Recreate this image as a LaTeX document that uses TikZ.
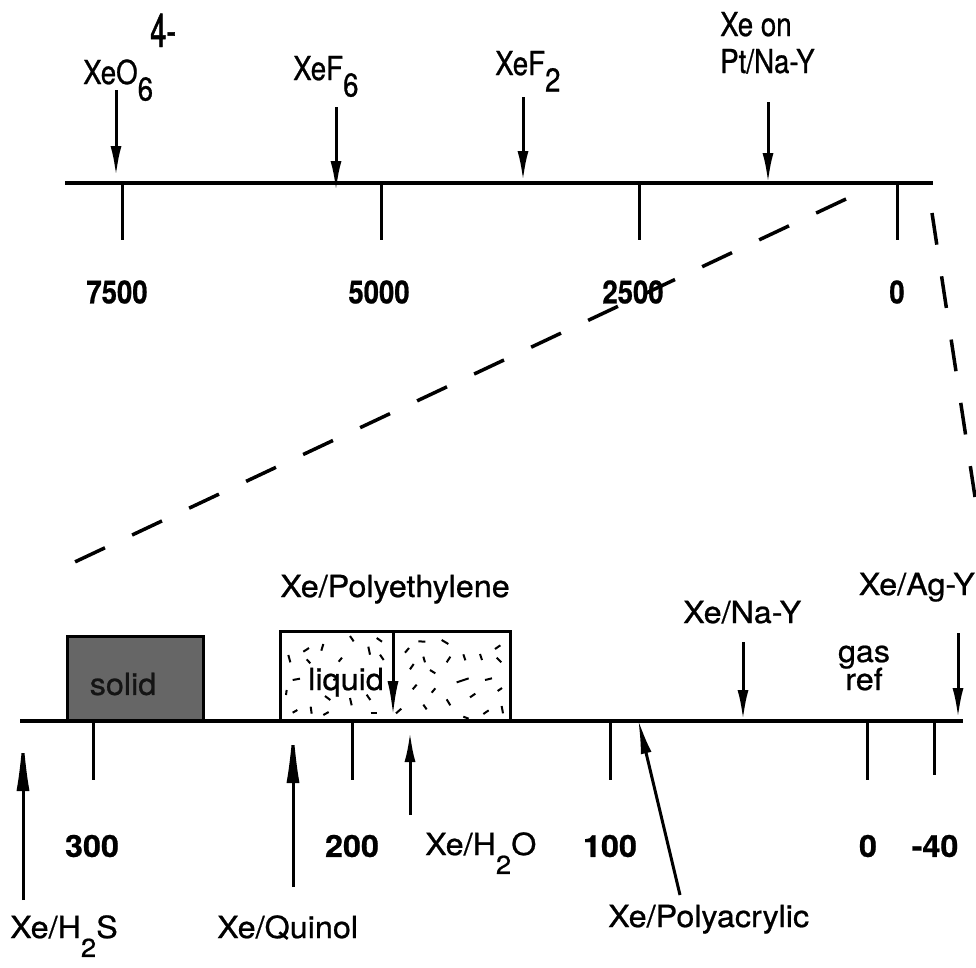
\documentclass[tikz,border=0pt]{standalone}
\usepackage{fontspec}
\usetikzlibrary{arrows.meta}
\newfontfamily\topf[FakeStretch=0.84,FakeBold=0.7]{TeX Gyre Heros}
\newfontfamily\botf[FakeStretch=1.06,FakeBold=0.7]{TeX Gyre Heros}
\newfontfamily\topnumf[FakeStretch=0.86,FakeBold=0.6]{TeX Gyre Heros Bold}
\newfontfamily\botnumf[FakeStretch=1.06,FakeBold=0.6]{TeX Gyre Heros Bold}
\newfontfamily\fourf[FakeStretch=0.62,FakeBold=1.0]{TeX Gyre Heros}
\newcommand\subtop[1]{\raisebox{-0.5em}{#1}}
\newcommand\subbot[1]{\raisebox{-0.62em}{\scalebox{0.85}{#1}}}
\tikzset{
  axisline/.style={line width=4pt},
  tickline/.style={line width=3pt},
  arr/.style={line width=3pt,-{Latex[length=30pt,width=11pt]}},
  longarr/.style={line width=3pt,-{Latex[length=58pt,width=13pt]}},
  dashln/.style={line width=3.5pt,dash pattern=on 33pt off 30pt},
  toplab/.style={font=\topf\fontsize{33}{36}\selectfont,inner sep=0pt},
  botlab/.style={font=\botf\fontsize{30.5}{34}\selectfont,inner sep=0pt},
  topnum/.style={font=\topnumf\fontsize{32}{36}\selectfont,inner sep=0pt},
  botnum/.style={font=\botnumf\fontsize{30.5}{34}\selectfont,inner sep=0pt},
  speck/.style={line width=2pt},
  boxline/.style={line width=3pt}
}
\begin{document}
\begin{tikzpicture}[x=1pt,y=-1pt]
\useasboundingbox (0,0) rectangle (976,967);
\fill[white] (0,0) rectangle (976,967);

% ---------- top scale ----------
\coordinate (tL) at (65,183);
\coordinate (tR) at (933,183);
\draw[axisline] (tL) -- (tR);
\foreach \n/\x in {t7500/122,t5000/381,t2500/639,t0/897}{
  \coordinate (\n a) at (\x,183);
  \coordinate (\n b) at (\x,240);
  \draw[tickline] (\n a) -- (\n b);
}
\node[topnum] (n7500) at (117,292) {7500};
\node[topnum] (n5000) at (379,292) {5000};
\node[topnum] (n2500) at (633,292) {2500};
\node[topnum] (n0top) at (897,292) {0};

% top labels
\node[font=\fourf\fontsize{47}{50}\selectfont,inner sep=0pt,anchor=base west] (four) at (150,47) {4-};
\node[toplab,anchor=base west] (xeo6) at (83,84) {XeO\subtop{6}};
\node[toplab,anchor=base west] (xef6) at (293,80) {XeF\subtop{6}};
\node[toplab,anchor=base west] (xef2) at (495,75) {XeF\subtop{2}};
\node[toplab,anchor=base west] (xeon) at (720,36) {Xe on};
\node[toplab,anchor=base west] (ptnay) at (720,73) {Pt/Na-Y};

% top arrows
\coordinate (a1s) at (116,90);  \coordinate (a1e) at (116,176);
\coordinate (a2s) at (336,107); \coordinate (a2e) at (336,191);
\coordinate (a3s) at (523,97);  \coordinate (a3e) at (523,181);
\coordinate (a4s) at (768,102); \coordinate (a4e) at (768,183);
\draw[arr] (a1s) -- (a1e);
\draw[arr] (a2s) -- (a2e);
\draw[arr] (a3s) -- (a3e);
\draw[arr] (a4s) -- (a4e);

% ---------- dashed expansion lines ----------
\coordinate (d1s) at (846,199); \coordinate (d1e) at (62,568);
\coordinate (d2s) at (932,213); \coordinate (d2e) at (975,497);
\draw[dashln] (d1s) -- (d1e);
\draw[line width=3.5pt,dash pattern=on 32pt off 32pt] (d2s) -- (d2e);

% ---------- bottom regions ----------
\filldraw[fill=black!60,draw=black,boxline] (67,636) rectangle (203,721);
\node[botlab,text=black!92] (solid) at (123,684) {solid};

\filldraw[fill=white,draw=black,boxline] (280,631) rectangle (510,721);
\begin{scope}[shift={(250,580)},scale=1/3]
\foreach \a/\b/\c/\d in {
 115/225/121/247, 160/215/177/204, 214/212/220/192, 300/168/311/184,
 380/174/396/185, 355/200/360/224, 170/238/181/250, 276/233/266/245,
 390/224/401/240, 128/300/150/296, 225/348/241/360, 300/354/305/376,
 350/344/361/360, 128/398/142/390, 182/380/185/401, 220/405/236/396,
 362/400/381/400, 505/184/526/185, 575/180/595/192, 465/218/477/204,
 520/230/525/247, 590/247/601/230, 640/223/646/241, 690/222/696/240,
 735/207/751/196, 740/233/754/247, 480/268/491/252, 540/270/556/280,
 620/307/656/295, 705/300/726/295, 488/328/500/314, 545/338/556/325,
 590/358/601/376, 660/352/676/341, 743/333/756/324, 520/374/530/388,
 700/402/716/391, 755/378/759/400, 438/400/454/386, 640/410/656/416,
 108/345/110/330, 250/300/262/295}{
  \draw[speck] (\a,\b) -- (\c,\d);
}
\end{scope}
\node[botlab,anchor=base west] (liquid) at (308,690) {liquid};

% ---------- bottom scale ----------
\coordinate (bL) at (20,721);
\coordinate (bR) at (963,721);
\draw[axisline] (bL) -- (bR);
\foreach \n/\x/\yb in {b300/93/780,b200/352/780,b100/610/780,b0/867/780,bm40/934/775}{
  \coordinate (\n a) at (\x,721);
  \coordinate (\n b) at (\x,\yb);
  \draw[tickline] (\n a) -- (\n b);
}
\node[botnum] (n300) at (92,846) {300};
\node[botnum] (n200) at (352,846) {200};
\node[botnum] (n100) at (610,846) {100};
\node[botnum] (n0bot) at (868,846) {0};
\node[botnum] (nm40) at (935,846) {-40};

% bottom labels
\node[botlab,anchor=base] (pe) at (395,597) {Xe/Polyethylene};
\node[botlab,anchor=base west] (nay) at (683,623) {Xe/Na-Y};
\node[botlab,anchor=base east] (agy) at (975,595) {Xe/Ag-Y};
\node[botlab,anchor=base] (gas) at (864,662) {gas};
\node[botlab,anchor=base] (ref) at (864,690) {ref};
\node[botlab,anchor=base west] (h2o) at (425,855) {Xe/H\subbot{2}O};
\node[botlab,anchor=base west] (h2s) at (10,938) {Xe/H\subbot{2}S};
\node[botlab,anchor=base west] (quinol) at (217,938) {Xe/Quinol};
\node[botlab,anchor=base west] (pacr) at (608,927) {Xe/Polyacrylic};

% bottom arrows
\coordinate (peS) at (393,631); \coordinate (peE) at (393,716);
\draw[line width=3pt,-{Latex[length=35pt,width=11pt]}] (peS) -- (peE);
\coordinate (naS) at (743,642); \coordinate (naE) at (743,720);
\draw[arr] (naS) -- (naE);
\coordinate (agS) at (958,633); \coordinate (agE) at (958,718);
\draw[arr] (agS) -- (agE);
\coordinate (hsS) at (23,900); \coordinate (hsE) at (23,733);
\draw[longarr] (hsS) -- (hsE);
\coordinate (qS) at (293,887); \coordinate (qE) at (293,725);
\draw[longarr] (qS) -- (qE);
\coordinate (hoS) at (410,815); \coordinate (hoE) at (410,732);
\draw[arr] (hoS) -- (hoE);
\coordinate (paS) at (680,895); \coordinate (paE) at (638,719);
\draw[line width=3pt,-{Latex[length=35pt,width=11pt]}] (paS) -- (paE);
\end{tikzpicture}
\end{document}
